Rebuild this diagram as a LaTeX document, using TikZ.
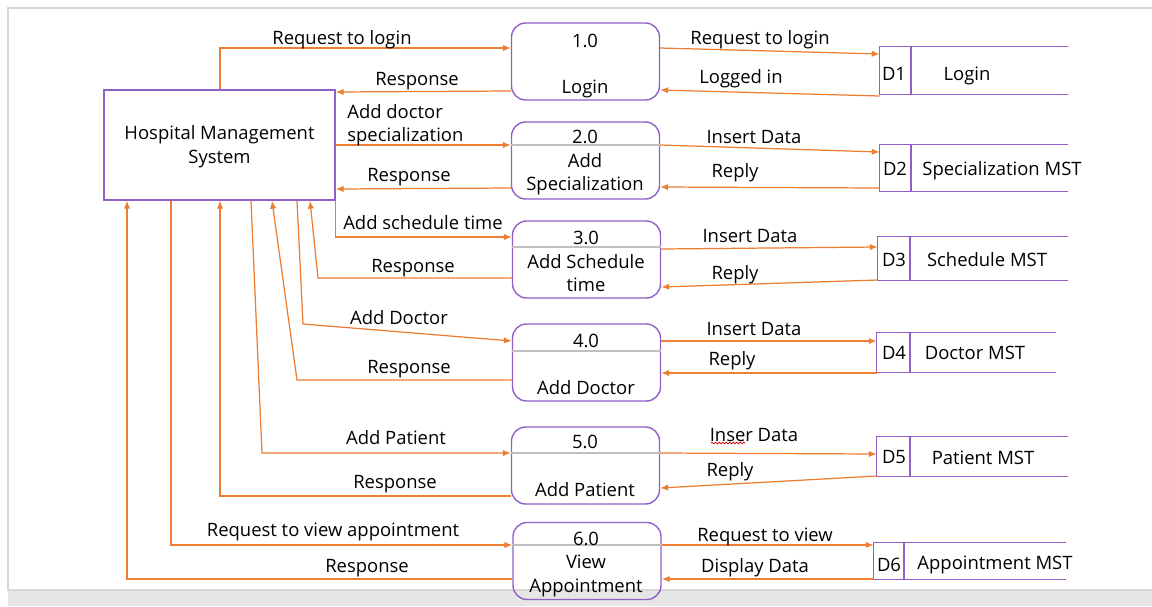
\documentclass[tikz,border=0pt]{standalone}
\usepackage{fontspec}
\setmainfont{Open Sans}
\usetikzlibrary{arrows.meta,decorations.pathmorphing}

\definecolor{flowc}{HTML}{ED7D31}
\definecolor{edgec}{RGB}{145,95,200}
\definecolor{rulec}{HTML}{BFBFBF}
\definecolor{framec}{HTML}{D6D6D6}
\definecolor{panelc}{HTML}{E6E6E6}

\tikzset{
  txt/.style={inner sep=0pt, font=\fontsize{10.5}{12.5}\selectfont, text height=10.5pt, text depth=2pt},
  entity/.style={draw=edgec, line width=0.8pt, minimum width=4.62cm, minimum height=2.2cm, inner sep=0pt},
  entitytxt/.style={inner sep=0pt, align=center, font=\fontsize{10.5}{13.5}\selectfont},
  proc/.style={draw=edgec, line width=0.8pt, rounded corners=8pt, minimum width=2.96cm,
               minimum height=1.54cm, inner sep=0pt},
  store/.style={inner sep=0pt},
  storeline/.style={draw=edgec, line width=0.8pt},
  divider/.style={draw=rulec, line width=0.6pt},
  flow/.style={draw=flowc, line width=0.7pt, -{Latex[length=4.5pt,width=3.6pt]}},
}

\begin{document}
\begin{tikzpicture}[x=0.02cm, y=-0.02cm]

  \useasboundingbox (0,0) rectangle (1152,606);

  % Frame
  \fill[panelc] (8,590) rectangle (1152,606);
  \draw[framec, line width=1.2pt] (1152,8) -- (8,8) -- (8,590) -- (1152,590);

  % External entity
  \node[entity] (hms) at (219.5,145) {};
  \node[entitytxt] (hmst) at (219.5,146.5) {Hospital Management\\System};

  % Processes
  \node[proc] (p1) at (585.5,61.5) {};
  \node[proc] (p2) at (585.5,160.5) {};
  \node[proc] (p3) at (586.5,259.5) {};
  \node[proc] (p4) at (586.5,362.5) {};
  \node[proc] (p5) at (585.5,465.5) {};
  \node[proc] (p6) at (587,561) {};

  \draw[divider] (p2.west |- 0,145) -- (p2.east |- 0,145);
  \draw[divider] (p3.west |- 0,247) -- (p3.east |- 0,247);
  \draw[divider] (p4.west |- 0,351) -- (p4.east |- 0,351);
  \draw[divider] (p5.west |- 0,453) -- (p5.east |- 0,453);
  \draw[divider] (p6.west |- 0,545) -- (p6.east |- 0,545);

  \node[txt] (p1n) at (585,40) {1.0};
  \node[txt] (p1t) at (585,86) {Login};
  \node[txt] (p2n) at (585,136) {2.0};
  \node[txt] (p2t) at (585,160) {Add};
  \node[txt] (p2u) at (585,183) {Specialization};
  \node[txt] (p3n) at (586,237) {3.0};
  \node[txt] (p3t) at (586,261) {Add Schedule};
  \node[txt] (p3u) at (586,284) {time};
  \node[txt] (p4n) at (586,340) {4.0};
  \node[txt] (p4t) at (586,387) {Add Doctor};
  \node[txt] (p5n) at (585,441) {5.0};
  \node[txt] (p5t) at (585,489) {Add Patient};
  \node[txt] (p6n) at (586,538) {6.0};
  \node[txt] (p6t) at (586,561) {View};
  \node[txt] (p6u) at (586,585) {Appointment};

  % Data stores
  \node[store, minimum width=3.76cm, minimum height=0.94cm] (d1) at (974,70.5) {};
  \node[store, minimum width=3.76cm, minimum height=0.92cm] (d2) at (974,168) {};
  \node[store, minimum width=3.80cm, minimum height=0.86cm] (d3) at (973,258.5) {};
  \node[store, minimum width=3.58cm, minimum height=0.78cm] (d4) at (966.5,352.5) {};
  \node[store, minimum width=3.82cm, minimum height=0.78cm] (d5) at (972.5,456.5) {};
  \node[store, minimum width=3.84cm, minimum height=0.72cm] (d6) at (970,561) {};

  \foreach \d/\c in {d1/911, d2/911, d3/910, d4/910, d5/910, d6/904} {
    \draw[storeline] (\d.north east) -- (\d.north west) -- (\d.south west) -- (\d.south east);
    \draw[storeline] (\c,0 |- \d.north) -- (\c,0 |- \d.south);
  }

  \node[txt] (d1k) at (894,73) {D1};
  \node[txt] (d1t) at (967,73) {Login};
  \node[txt] (d2k) at (895,168) {D2};
  \node[txt] (d2t) at (1002,168) {Specialization MST};
  \node[txt] (d3k) at (894,259) {D3};
  \node[txt] (d3t) at (987,259) {Schedule MST};
  \node[txt] (d4k) at (894,352) {D4};
  \node[txt] (d4t) at (975,352) {Doctor MST};
  \node[txt] (d5k) at (894,456) {D5};
  \node[txt] (d5t) at (983,457) {Patient MST};
  \node[txt] (d6k) at (889,564) {D6};
  \node[txt] (d6t) at (995,562) {Appointment MST};

  % Flows between system and processes
  \draw[flow] (220,0 |- hms.north) |- (p1.west |- 0,48);
  \draw[flow] (p1.west |- 0,91) -- (hms.east |- 0,92);
  \draw[flow] (hms.east |- 0,145) -- (p2.west |- 0,145);
  \draw[flow] (p2.west |- 0,188) -- (hms.east |- 0,189);
  \draw[flow] (hms.south east) |- (p3.west |- 0,237);
  \draw[flow] (p3.west |- 0,278) -- (318,278) -- (310,0 |- hms.south);
  \draw[flow] (297,0 |- hms.south) -- (303,324) -- (p4.west |- 0,341);
  \draw[flow] (p4.west |- 0,380) -- (297,380) -- (272,0 |- hms.south);
  \draw[flow] (251,0 |- hms.south) -- (262,453) -- (p5.west |- 0,453);
  \draw[flow] (p5.west |- 0,496) -| (220,0 |- hms.south);
  \draw[flow] (171,0 |- hms.south) |- (p6.west |- 0,545);
  \draw[flow] (p6.west |- 0,579) -| (127,0 |- hms.south);

  \node[txt] (l1) at (342,37) {Request to login};
  \node[txt] (l2) at (417,78) {Response};
  \node[inner sep=0pt, anchor=west, align=left, font=\fontsize{10.5}{13.2}\selectfont] (l3) at (347,125) {Add doctor\\specialization};
  \node[txt] (l4) at (409,174) {Response};
  \node[txt] (l5) at (423,222) {Add schedule time};
  \node[txt] (l6) at (413,265) {Response};
  \node[txt] (l7) at (399,317) {Add Doctor};
  \node[txt] (l8) at (409,366) {Response};
  \node[txt] (l9) at (396,437) {Add Patient};
  \node[txt] (l10) at (395,481) {Response};
  \node[txt] (l11) at (333,529) {Request to view appointment};
  \node[txt] (l12) at (367,565) {Response};

  % Flows between processes and stores
  \draw[flow] (p1.east |- 0,48) -- (d1.west |- 0,54);
  \draw[flow] (d1.west |- 0,96) -- (p1.east |- 0,90);
  \draw[flow] (p2.east |- 0,145) -- (d2.west |- 0,152);
  \draw[flow] (d2.west |- 0,188) -- (p2.east |- 0,187);
  \draw[flow] (p3.east |- 0,249) -- (d3.west |- 0,247);
  \draw[flow] (d3.west |- 0,280) -- (p3.east |- 0,287);
  \draw[flow] (p4.east |- 0,341) -- (d4.west |- 0,341);
  \draw[flow] (d4.west |- 0,373) -- (p4.east |- 0,373);
  \draw[flow] (p5.east |- 0,453) -- (d5.west |- 0,454);
  \draw[flow] (d5.west |- 0,476) -- (p5.east |- 0,488);
  \draw[flow] (p6.east |- 0,545) -- (d6.west |- 0,545);
  \draw[flow] (d6.west |- 0,579) -- (p6.east |- 0,579);

  \node[txt] (r1) at (760,37) {Request to login};
  \node[txt] (r2) at (741,76) {Logged in};
  \node[txt] (r3) at (754,136) {Insert Data};
  \node[txt] (r4) at (735,170) {Reply};
  \node[txt] (r5) at (750,235) {Insert Data};
  \node[txt] (r6) at (735,272) {Reply};
  \node[txt] (r7) at (754,328) {Insert Data};
  \node[txt] (r8) at (732,358) {Reply};
  \node[txt] (r9) at (754,434) {Inser Data};
  \node[txt] (r10) at (730,469) {Reply};
  \node[txt] (r11) at (765,534) {Request to view};
  \node[txt] (r12) at (755,565) {Display Data};

  % spell-check squiggle
  \draw[red!80!black, line width=0.4pt, decorate,
        decoration={snake, amplitude=0.5pt, segment length=2pt}] (711,443) -- (745,443);

\end{tikzpicture}
\end{document}
